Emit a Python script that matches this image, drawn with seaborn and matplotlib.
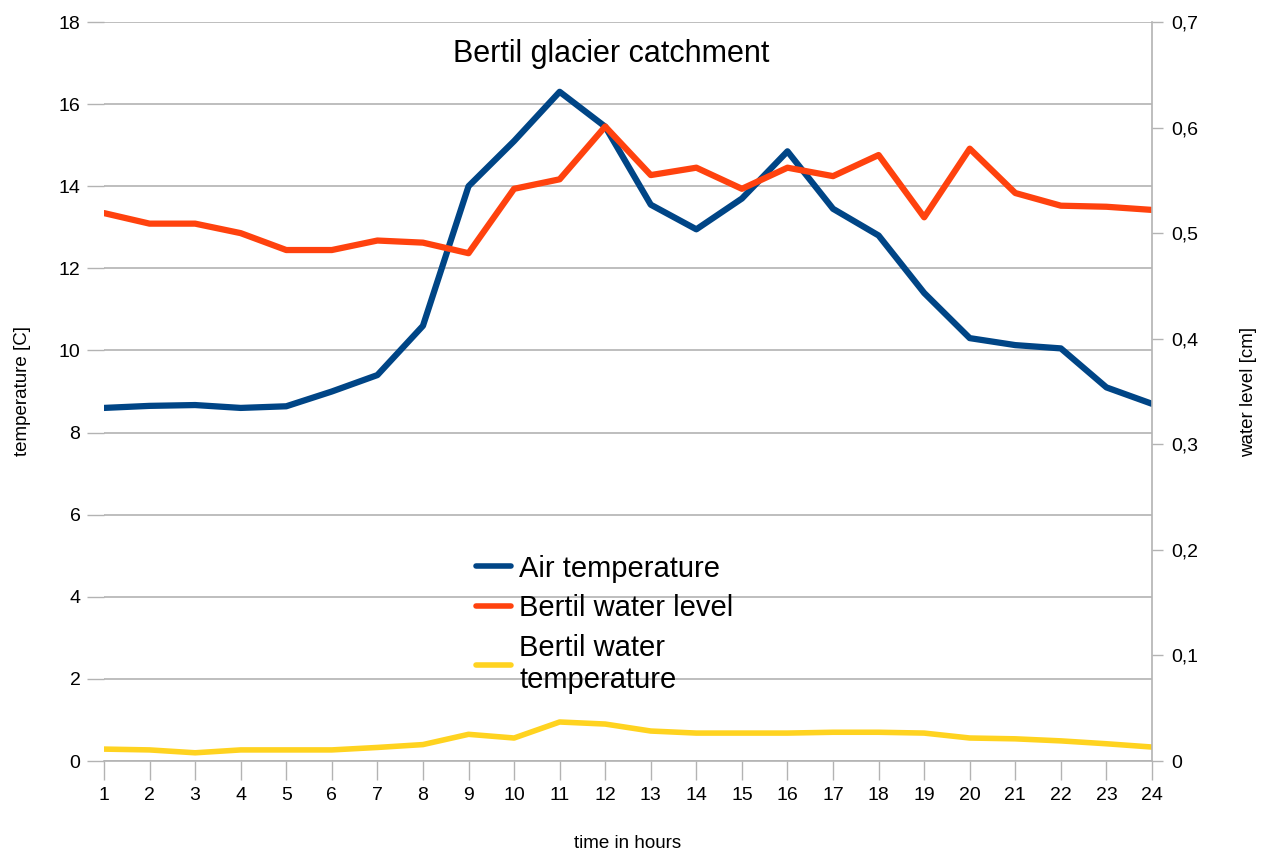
import numpy as np
import pandas as pd
import matplotlib
matplotlib.use("Agg")
import matplotlib.pyplot as plt
from matplotlib.ticker import FuncFormatter
import seaborn as sns

# hourly values
hours = list(range(1, 25))
air_temp = [8.6, 8.65, 8.67, 8.6, 8.64, 9.0, 9.4, 10.6, 14.0, 15.1, 16.3, 15.45,
            13.55, 12.95, 13.7, 14.85, 13.45, 12.8, 11.4, 10.3, 10.13, 10.05, 9.1, 8.7]
water_level = [0.519, 0.509, 0.509, 0.500, 0.484, 0.484, 0.493, 0.491, 0.481, 0.542,
               0.551, 0.601, 0.555, 0.562, 0.542, 0.562, 0.554, 0.574, 0.515, 0.580,
               0.538, 0.526, 0.525, 0.522]
water_temp = [0.29, 0.27, 0.2, 0.27, 0.27, 0.27, 0.33, 0.4, 0.65, 0.56, 0.95, 0.9,
              0.73, 0.68, 0.68, 0.68, 0.7, 0.7, 0.68, 0.56, 0.54, 0.49, 0.42, 0.34]

df = pd.DataFrame({"hour": hours, "air": air_temp, "level": water_level, "wtemp": water_temp})

BLUE = "#004586"
ORANGE = "#ff420e"
YELLOW = "#ffd320"
GRID = "#b3b3b3"

sns.set_theme(style="white")
plt.rcParams["font.family"] = ["Liberation Sans", "DejaVu Sans"]
plt.rcParams["text.color"] = "black"
plt.rcParams["axes.labelcolor"] = "black"

fig = plt.figure(figsize=(12.62, 8.5), dpi=100)
ax = fig.add_axes([104 / 1262, 1 - 761 / 850, (1152 - 104) / 1262, (761 - 22) / 850])
ax2 = ax.twinx()

sns.lineplot(data=df, x="hour", y="air", ax=ax, color=BLUE, linewidth=4.5,
             label="Air temperature", legend=False)
sns.lineplot(data=df, x="hour", y="wtemp", ax=ax, color=YELLOW, linewidth=4,
             label="Bertil water\ntemperature", legend=False)
sns.lineplot(data=df, x="hour", y="level", ax=ax2, color=ORANGE, linewidth=4.5,
             label="Bertil water level", legend=False)

ax.set_xlim(1, 24)
ax.set_ylim(0, 18)
ax2.set_ylim(0, 0.7)
ax.set_xticks(hours)
ax.set_yticks(np.arange(0, 19, 2))
ax2.set_yticks(np.arange(0, 0.71, 0.1))
ax2.yaxis.set_major_formatter(FuncFormatter(
    lambda v, p: "0" if abs(v) < 1e-9 else f"{v:.1f}".replace(".", ",")))

ax.grid(axis="y", color=GRID, linewidth=1.2)
ax.set_axisbelow(True)
for a in (ax, ax2):
    for s in ("top", "left"):
        a.spines[s].set_visible(False)
ax.spines["right"].set_visible(False)
ax2.spines["bottom"].set_visible(False)
ax.spines["bottom"].set_color(GRID)
ax2.spines["right"].set_color(GRID)
ax.spines["bottom"].set_linewidth(1.2)
ax2.spines["right"].set_linewidth(1.2)

ax.tick_params(axis="x", bottom=True, length=14, width=1, color=GRID,
               labelsize=14, labelcolor="black", pad=5)
ax.tick_params(axis="y", left=True, length=12, width=1, color=GRID,
               labelsize=14, labelcolor="black", pad=5)
ax2.tick_params(axis="y", right=True, length=8, width=1, color=GRID,
                labelsize=14, labelcolor="black", pad=6)

ax.set_xlabel("time in hours", fontsize=13.5, labelpad=22)
ax.set_ylabel("temperature [C]", fontsize=13.5, labelpad=20)
ax2.set_ylabel("water level [cm]", fontsize=13.5, rotation=90, labelpad=30)

fig.text(611 / 1262, 1 - 54 / 850, "Bertil glacier catchment", fontsize=22,
         ha="center", va="center")

h1, l1 = ax.get_legend_handles_labels()
h2, l2 = ax2.get_legend_handles_labels()
handles = [h1[0], h2[0], h1[1]]
labels = [l1[0], l2[0], l1[1]]
leg = fig.legend(handles, labels, loc="upper left", bbox_to_anchor=(464 / 1262, 1 - 543 / 850),
                 frameon=False, fontsize=21, handlelength=1.2, handletextpad=0.3,
                 labelspacing=0.4, borderaxespad=0)
for line in leg.get_lines():
    line.set_linewidth(4)

fig.savefig("out.png", dpi=100)
